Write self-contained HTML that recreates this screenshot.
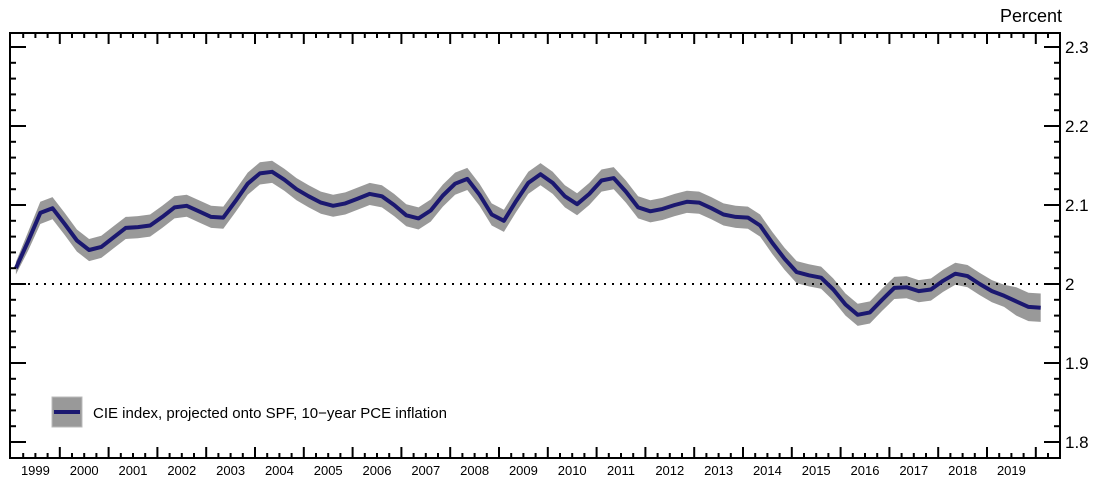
<!DOCTYPE html>
<html><head><meta charset="utf-8"><style>
body{margin:0;background:#fff;}
svg{display:block;font-family:"Liberation Sans",Arial,sans-serif;}
</style></head><body>
<svg id="chart" width="1100" height="487" viewBox="0 0 1100 487" xmlns="http://www.w3.org/2000/svg">
<text x="1062" y="22" text-anchor="end" font-size="18">Percent</text>
<g id="band"></g>
<line x1="12" x2="1058" y1="284" y2="284" stroke="#000" stroke-width="2" stroke-dasharray="2,6"/>
<g id="line"></g>
<g id="axes"></g>
<g>
<rect x="52" y="397" width="30" height="30" fill="#999" stroke="#bbb"/>
<line x1="54" x2="80" y1="412" y2="412" stroke="#1b1870" stroke-width="4"/>
<text x="93" y="418" font-size="15">CIE index, projected onto SPF, 10−year PCE inflation</text>
</g>
</svg>
<script>
const cieValues=[2.020,2.054,2.090,2.096,2.076,2.055,2.043,2.047,2.059,2.071,2.072,2.074,2.085,2.097,2.099,2.092,2.085,2.084,2.105,2.127,2.140,2.142,2.132,2.120,2.111,2.103,2.099,2.102,2.108,2.114,2.111,2.100,2.087,2.083,2.093,2.112,2.127,2.133,2.113,2.088,2.080,2.105,2.128,2.139,2.128,2.111,2.101,2.114,2.131,2.134,2.117,2.097,2.092,2.095,2.100,2.104,2.103,2.096,2.088,2.085,2.084,2.074,2.052,2.032,2.015,2.011,2.008,1.993,1.974,1.961,1.964,1.980,1.995,1.996,1.991,1.993,2.004,2.013,2.010,2.000,1.991,1.985,1.978,1.971,1.970];
const bandHalf=[0.008,0.012,0.014,0.014];
const bandHalfDefault=0.014;
const bandHalfEnd=0.018;
const startYear=1999;
const yearLabels=["1999","2000","2001","2002","2003","2004","2005","2006","2007","2008","2009","2010","2011","2012","2013","2014","2015","2016","2017","2018","2019"];
const yTicks=["1.8","1.9","2","2.1","2.2","2.3"];
const NS="http://www.w3.org/2000/svg";
function xS(t){return 11+(t-1999)*48.8;}
function yS(v){return 284-(v-2)*790;}
function tOf(i){return startYear+i/4+0.1;}
function mk(tag,attrs,parent){const e=document.createElementNS(NS,tag);for(const k in attrs)e.setAttribute(k,attrs[k]);parent.appendChild(e);return e;}
function half(i){if(i<bandHalf.length)return bandHalf[i];if(i>=cieValues.length-3)return bandHalfEnd;return bandHalfDefault;}
const bandG=document.getElementById('band');
let up=[],lo=[];
cieValues.forEach((v,i)=>{up.push(xS(tOf(i)).toFixed(1)+","+yS(v+half(i)).toFixed(1));lo.unshift(xS(tOf(i)).toFixed(1)+","+yS(v-half(i)).toFixed(1));});
const poly=mk('polygon',{points:up.concat(lo).join(" "),fill:"#999"},bandG);


const lineG=document.getElementById('line');
const pl=mk('polyline',{points:cieValues.map((v,i)=>xS(tOf(i)).toFixed(1)+","+yS(v).toFixed(1)).join(" "),fill:"none",stroke:"#1b1870","stroke-width":4,"stroke-linejoin":"round"},lineG);


const ax=document.getElementById('axes');
const L=10,R=1060,T=33,B=458;
mk('rect',{x:L,y:T,width:R-L,height:B-T,fill:"none",stroke:"#000","stroke-width":2},ax);
for(let q=0;q<=86;q++){const t=1999+q/4;const x=xS(t);if(x<=L+1||x>=R-1)continue;const major=q%4===0;const len=major?11:5;
mk('line',{x1:x,x2:x,y1:T,y2:T+len,stroke:"#000","stroke-width":2},ax);
mk('line',{x1:x,x2:x,y1:B,y2:B-len,stroke:"#000","stroke-width":2},ax);}
yearLabels.forEach((lab,i)=>{const tx=mk('text',{x:xS(Number(lab)+0.5),y:475,"text-anchor":"middle","font-size":13},ax);tx.textContent=lab;

});
for(let k=0;k<=25;k++){const v=1.8+k*0.02;const y=yS(v);if(y<T+2)continue;const major=k%5===0;const len=major?16:6;
mk('line',{x1:L,x2:L+len,y1:y,y2:y,stroke:"#000","stroke-width":2},ax);
mk('line',{x1:R,x2:R-len,y1:y,y2:y,stroke:"#000","stroke-width":2},ax);}
yTicks.forEach(lab=>{const tx=mk('text',{x:1065,y:yS(Number(lab))+6,"font-size":17},ax);tx.textContent=lab;

});
</script>
</body></html>
